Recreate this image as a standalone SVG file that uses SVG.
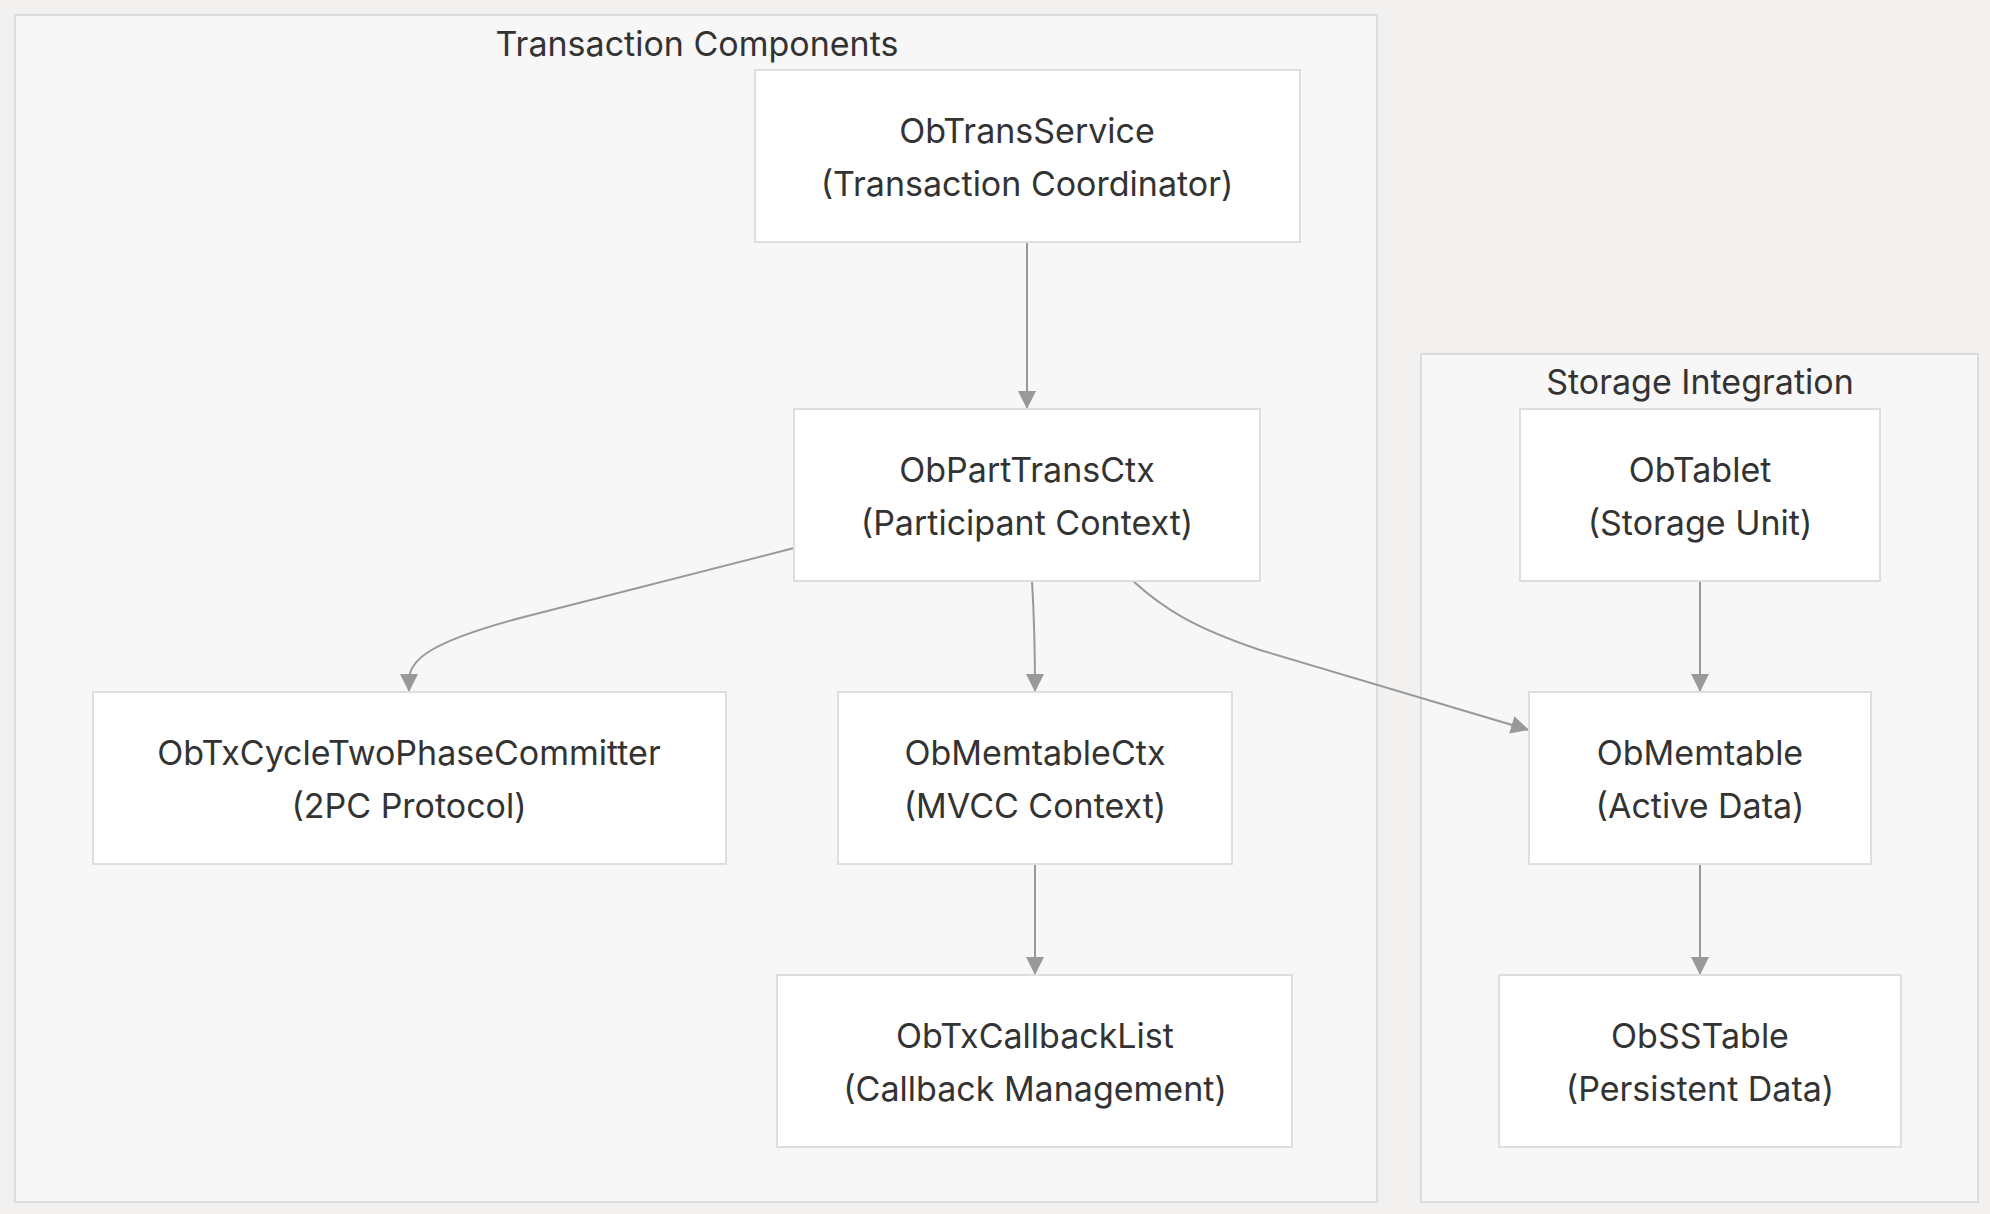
<svg xmlns="http://www.w3.org/2000/svg" width="1990" height="1214" viewBox="0 0 1990 1214">
<style>
.bg{fill:#f2f1ef}
.cluster{fill:#f7f7f7;stroke:#dcdcdc;stroke-width:2}
.node{fill:#ffffff;stroke:#dedede;stroke-width:2}
.t{font-family:Inter,"Liberation Sans",sans-serif;font-size:34px;fill:#333333;text-anchor:middle;dominant-baseline:central}
.e{fill:none;stroke:#999999;stroke-width:2}
</style>
<defs>
<marker id="arr" viewBox="0 0 10 10" refX="10" refY="5" markerWidth="18" markerHeight="18" markerUnits="userSpaceOnUse" orient="auto">
<path d="M0,0 L10,5 L0,10 z" fill="#999999"/>
</marker>
</defs>
<rect class="bg" x="0" y="0" width="1990" height="1214"/>
<g id="cluster-transaction">
<rect class="cluster" x="15" y="15" width="1362" height="1187"/>
<text class="t" x="697" y="43">Transaction Components</text>
</g>
<g id="cluster-storage">
<rect class="cluster" x="1421" y="354" width="557" height="848"/>
<text class="t" x="1700" y="381">Storage Integration</text>
</g>
<g id="edges">
<path class="e" d="M1027,242 L1027,409" marker-end="url(#arr)"/>
<path class="e" d="M794,548 L520,618 C430,642 409,660 409,680 L409,692" marker-end="url(#arr)"/>
<path class="e" d="M1032,581 Q1035,630 1035,692" marker-end="url(#arr)"/>
<path class="e" d="M1133,581 C1165,610 1195,628 1260,650 L1529,730" marker-end="url(#arr)"/>
<path class="e" d="M1700,581 L1700,692" marker-end="url(#arr)"/>
<path class="e" d="M1035,864 L1035,975" marker-end="url(#arr)"/>
<path class="e" d="M1700,864 L1700,975" marker-end="url(#arr)"/>
</g>
<g id="node-ObTransService">
<rect class="node" x="755" y="70" width="545" height="172"/>
<text class="t" x="1027" y="130">ObTransService</text>
<text class="t" x="1027" y="183">(Transaction Coordinator)</text>
</g>
<g id="node-ObPartTransCtx">
<rect class="node" x="794" y="409" width="466" height="172"/>
<text class="t" x="1027" y="469">ObPartTransCtx</text>
<text class="t" x="1027" y="522">(Participant Context)</text>
</g>
<g id="node-ObTxCycleTwoPhaseCommitter">
<rect class="node" x="93" y="692" width="633" height="172"/>
<text class="t" x="409" y="752">ObTxCycleTwoPhaseCommitter</text>
<text class="t" x="409" y="805">(2PC Protocol)</text>
</g>
<g id="node-ObMemtableCtx">
<rect class="node" x="838" y="692" width="394" height="172"/>
<text class="t" x="1035" y="752">ObMemtableCtx</text>
<text class="t" x="1035" y="805">(MVCC Context)</text>
</g>
<g id="node-ObTxCallbackList">
<rect class="node" x="777" y="975" width="515" height="172"/>
<text class="t" x="1035" y="1035">ObTxCallbackList</text>
<text class="t" x="1035" y="1088">(Callback Management)</text>
</g>
<g id="node-ObTablet">
<rect class="node" x="1520" y="409" width="360" height="172"/>
<text class="t" x="1700" y="469">ObTablet</text>
<text class="t" x="1700" y="522">(Storage Unit)</text>
</g>
<g id="node-ObMemtable">
<rect class="node" x="1529" y="692" width="342" height="172"/>
<text class="t" x="1700" y="752">ObMemtable</text>
<text class="t" x="1700" y="805">(Active Data)</text>
</g>
<g id="node-ObSSTable">
<rect class="node" x="1499" y="975" width="402" height="172"/>
<text class="t" x="1700" y="1035">ObSSTable</text>
<text class="t" x="1700" y="1088">(Persistent Data)</text>
</g>
</svg>
